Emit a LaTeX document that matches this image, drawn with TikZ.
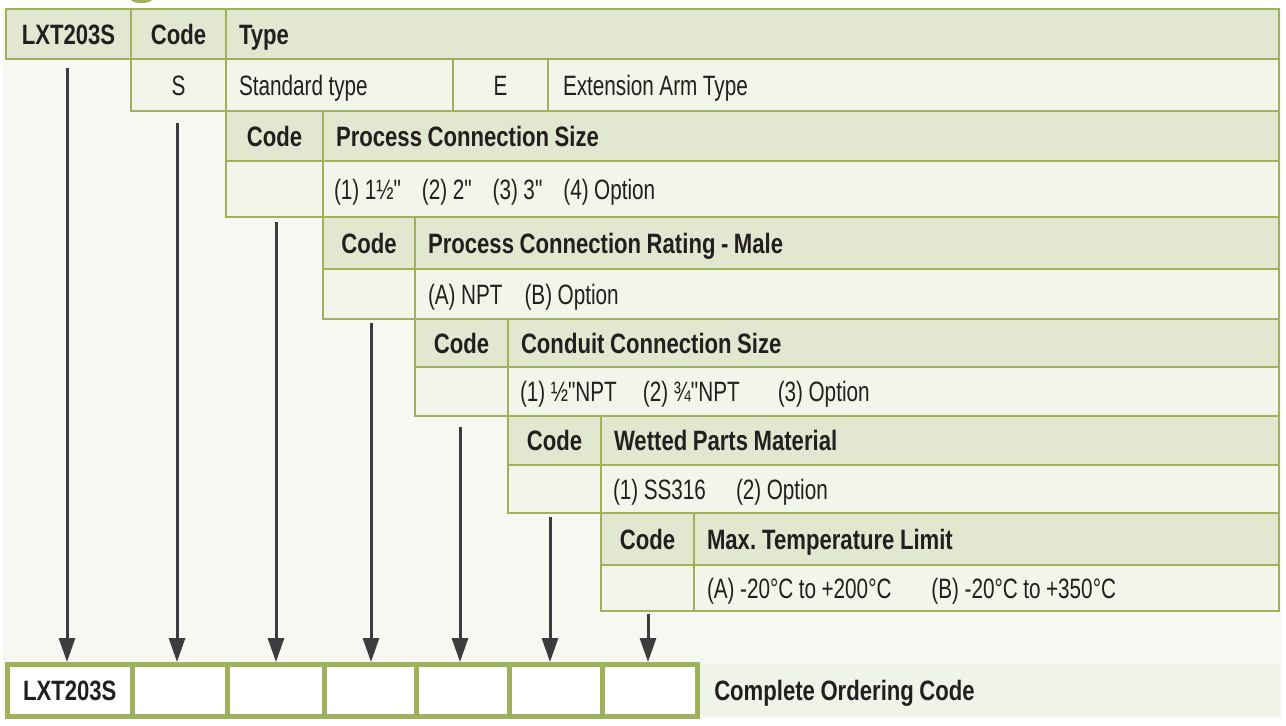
\documentclass[tikz,border=0pt]{standalone}
\usepackage{fontspec}
\newfontfamily\txtfont{Liberation Sans}[FakeStretch=0.74]
\newfontfamily\hdfont{Liberation Sans}[FakeStretch=0.79]
\usetikzlibrary{arrows.meta}
\definecolor{grn}{HTML}{9DB25B}
\definecolor{hdbg}{HTML}{E2E7D0}
\definecolor{cellbg}{HTML}{F2F5EA}
\definecolor{pagebg}{HTML}{F6F8F2}
\definecolor{lblbg}{HTML}{F0F3E7}
\definecolor{ink}{HTML}{231F20}
\definecolor{arrgray}{HTML}{3C3C3E}

\begin{document}
\begin{tikzpicture}[x=1pt, y=-1pt,
    cell/.style={draw=grn, line width=2pt, anchor=north west, inner sep=0pt,
        text=ink, text height=20pt, text depth=0pt,
        font=\fontsize{28}{30}\selectfont\txtfont,
        execute at begin node={\spaceskip=5.5pt\relax\xspaceskip=6pt\relax}},
    hd/.style={cell, fill=hdbg, font=\fontsize{28}{30}\selectfont\hdfont\bfseries},
    bd/.style={cell, fill=cellbg},
    lft/.style={align=left, inner xsep=13pt, text width=#1},
    ord/.style={draw=grn, line width=4.5pt, fill=white, anchor=north west,
        inner sep=0pt, minimum height=52pt, text=ink, text height=20pt, text depth=0pt,
        font=\fontsize{28}{30}\selectfont\hdfont\bfseries,
        execute at begin node={\spaceskip=5.5pt\relax}},
    arr/.style={draw=arrgray, line width=3pt, -{Triangle[width=16pt, length=24pt]}}
]
    \useasboundingbox (0,0) rectangle (1286,726);
    \fill[white] (0,0) rectangle (1286,726);
    \fill[pagebg] (3,8) rectangle (1281,718);
    \fill[grn] (131,0) .. controls (134,4) and (149,4) .. (152,0) -- cycle;

    \node[hd, minimum width=125pt, minimum height=50pt] (lxt) at (5,8) {LXT203S};
    \node[hd, minimum width=95pt, minimum height=50pt] (codeA) at (130,8) {Code};
    \node[hd, lft=1027pt, minimum height=50pt] (typeH) at (225,8) {Type};
    \node[bd, minimum width=95pt, minimum height=52pt] (codeS) at (130,58) {S};
    \node[bd, lft=201pt, minimum height=52pt] (stdT) at (225,58) {Standard type};
    \node[bd, minimum width=95pt, minimum height=52pt] (codeE) at (452,58) {E};
    \node[bd, lft=701pt, inner xsep=15pt, minimum height=52pt] (extT) at (547,58) {Extension Arm Type};

    \node[hd, minimum width=97pt, minimum height=50pt] (codeB) at (225,110) {Code};
    \node[hd, lft=930pt, minimum height=50pt] (sizeH) at (322,110) {Process Connection Size};
    \node[bd, minimum width=97pt, minimum height=56pt] (codeB1) at (225,160) {};
    \node[bd, lft=934pt, inner xsep=11pt, minimum height=56pt] (sizeT) at (322,160)
        {(1) 1½"\hspace{21pt}(2) 2"\hspace{21pt}(3) 3"\hspace{21pt}(4) Option};

    \node[hd, minimum width=92pt, minimum height=52pt] (codeC) at (322,216) {Code};
    \node[hd, lft=838pt, minimum height=52pt] (ratingH) at (414,216) {Process Connection Rating - Male};
    \node[bd, minimum width=92pt, minimum height=50pt] (codeC1) at (322,268) {};
    \node[bd, lft=838pt, minimum height=50pt] (ratingT) at (414,268)
        {(A) NPT\hspace{22pt}(B) Option};

    \node[hd, minimum width=93pt, minimum height=48pt] (codeD) at (414,318) {Code};
    \node[hd, lft=745pt, minimum height=48pt] (condH) at (507,318) {Conduit Connection Size};
    \node[bd, minimum width=93pt, minimum height=49pt] (codeD1) at (414,366) {};
    \node[bd, lft=747pt, inner xsep=12pt, minimum height=49pt] (condT) at (507,366)
        {(1) ½"NPT\hspace{26pt}(2) ¾"NPT\hspace{38pt}(3) Option};

    \node[hd, minimum width=93pt, minimum height=49pt] (codeE4) at (507,415) {Code};
    \node[hd, lft=652pt, minimum height=49pt] (wetH) at (600,415) {Wetted Parts Material};
    \node[bd, minimum width=93pt, minimum height=48pt] (codeE5) at (507,464) {};
    \node[bd, lft=654pt, inner xsep=12pt, minimum height=48pt] (wetT) at (600,464)
        {(1) SS316\hspace{30pt}(2) Option};

    \node[hd, minimum width=93pt, minimum height=52pt] (codeF) at (600,512) {Code};
    \node[hd, lft=559pt, minimum height=52pt] (tempH) at (693,512) {Max. Temperature Limit};
    \node[bd, minimum width=93pt, minimum height=46pt] (codeF1) at (600,564) {};
    \node[bd, lft=559pt, minimum height=46pt] (tempT) at (693,564)
        {(A) -20°C to +200°C\hspace{40pt}(B) -20°C to +350°C};

    \node[ord, draw=none, fill=lblbg, align=left, inner xsep=17pt, text width=549pt]
        (ordlbl) at (695,662) {Complete Ordering Code};
    \node[ord, minimum width=125pt] (ord0) at (5,662) {LXT203S};
    \node[ord, minimum width=95pt] (ord1) at (130,662) {};
    \node[ord, minimum width=97pt] (ord2) at (225,662) {};
    \node[ord, minimum width=92pt] (ord3) at (322,662) {};
    \node[ord, minimum width=93pt] (ord4) at (414,662) {};
    \node[ord, minimum width=93pt] (ord5) at (507,662) {};
    \node[ord, minimum width=95pt] (ord6) at (600,662) {};

    \coordinate (top0) at (67,68);
    \coordinate (top1) at (177,123);
    \coordinate (top2) at (276,222);
    \coordinate (top3) at (371,323);
    \coordinate (top4) at (460,427);
    \coordinate (top5) at (550,517);
    \coordinate (top6) at (648,614);
    \draw[arr] (top0) -- (top0 |- ord0.north);
    \draw[arr] (top1) -- (top1 |- ord1.north);
    \draw[arr] (top2) -- (top2 |- ord2.north);
    \draw[arr] (top3) -- (top3 |- ord3.north);
    \draw[arr] (top4) -- (top4 |- ord4.north);
    \draw[arr] (top5) -- (top5 |- ord5.north);
    \draw[arr] (top6) -- (top6 |- ord6.north);
\end{tikzpicture}
\end{document}
